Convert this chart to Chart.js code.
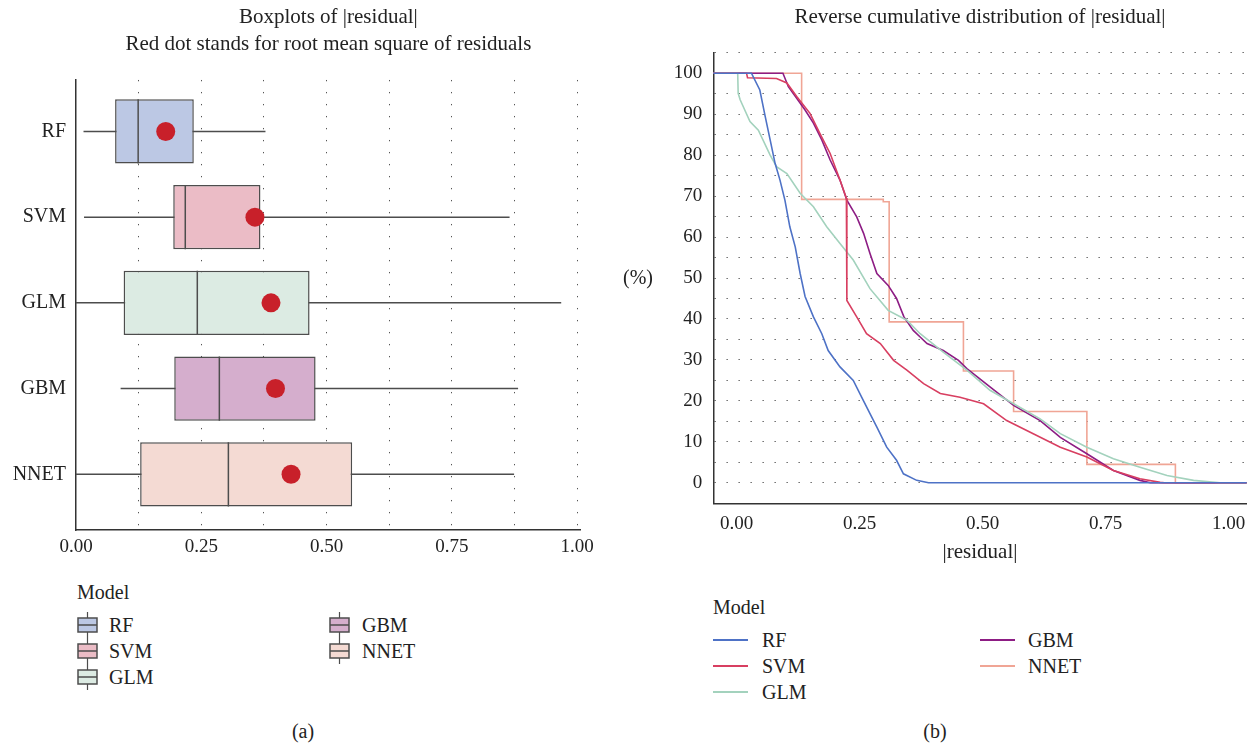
<!DOCTYPE html>
<html>
<head>
<meta charset="utf-8">
<script src="https://cdn.jsdelivr.net/npm/chart.js@4.4.1/dist/chart.umd.min.js"></script>
<style>
  body { margin: 0; background: #fff; font-family: 'Liberation Serif', serif; color: #222; }
  #page { position: relative; width: 1258px; height: 746px; overflow: hidden; }
  canvas { position: absolute; }
  .txt { position: absolute; font-size: 20px; line-height: 1; white-space: nowrap; transform: translateY(-50%); }
  .center { transform: translate(-50%, -50%); }
  .swatch { position: absolute; transform: translateY(-50%); }
</style>
</head>
<body>
<div id="page">
  <canvas id="boxChart" width="600" height="570" style="left:0;top:0"></canvas>
  <canvas id="ecdfChart" width="618" height="565" style="left:640px;top:0"></canvas>
  <div class="txt center" style="left:638px;top:277px">(%)</div>
  <div class="txt center" style="left:303px;top:731px">(a)</div>
  <div class="txt center" style="left:935px;top:731px">(b)</div>
  <div id="legends"></div>
</div>
<script>
const FONT = "'Liberation Serif', serif";

const models = ['RF', 'SVM', 'GLM', 'GBM', 'NNET'];
const boxColors = ['#bcc8e4', '#ebbcc6', '#dcebe3', '#d5aecd', '#f4dad3'];
const lineColors = ['#4e72c6', '#d83f61', '#a3d2bd', '#8d1d84', '#f0a595'];

// boxplot stats of |residual|
const whiskerLow = [0.015, 0.016, 0.0, 0.089, 0.0];
const q1 = [0.078, 0.194, 0.095, 0.196, 0.128];
const median = [0.124, 0.218, 0.242, 0.286, 0.304];
const q3 = [0.235, 0.368, 0.466, 0.478, 0.551];
const whiskerHigh = [0.378, 0.865, 0.968, 0.882, 0.874];
const rmse = [0.179, 0.357, 0.389, 0.398, 0.429];

const residTicks = [0, 0.25, 0.5, 0.75, 1.0];
const pctTicks = [0, 10, 20, 30, 40, 50, 60, 70, 80, 90, 100];

// reverse cumulative distribution (% of |residual| above x)
const rfX = [-0.05, 0.030, 0.047, 0.058, 0.068, 0.078, 0.088, 0.098, 0.108, 0.119, 0.129, 0.139, 0.156, 0.173, 0.186, 0.210, 0.237, 0.254, 0.271, 0.285, 0.305, 0.325, 0.339, 0.366, 0.390, 1.05];
const rfP = [100, 100, 95.9, 89.4, 83.7, 78, 73.9, 69, 62.5, 57.6, 51.1, 45.5, 40.5, 36.4, 32.3, 28.3, 25, 20.9, 16.9, 13.6, 8.7, 5.5, 2.2, 0.6, 0, 0];

const svmX = [-0.05, 0.020, 0.022, 0.081, 0.102, 0.122, 0.149, 0.169, 0.190, 0.210, 0.223, 0.224, 0.244, 0.264, 0.292, 0.319, 0.346, 0.380, 0.414, 0.454, 0.502, 0.549, 0.603, 0.658, 0.712, 0.766, 0.820, 0.861, 0.870, 1.05];
const svmP = [100, 100, 98.9, 98.7, 97.6, 94.3, 90.2, 85.3, 80.4, 73.9, 69.5, 44.5, 40.5, 36.4, 34, 29.9, 27.5, 24.2, 21.8, 20.9, 19.3, 15.2, 12, 8.7, 6.3, 3, 1, 0.1, 0, 0];

const glmX = [-0.05, 0.002, 0.003, 0.007, 0.027, 0.044, 0.068, 0.081, 0.102, 0.129, 0.156, 0.183, 0.210, 0.237, 0.271, 0.308, 0.346, 0.373, 0.420, 0.468, 0.515, 0.563, 0.617, 0.658, 0.712, 0.766, 0.820, 0.875, 0.929, 0.983, 1.05];
const glmP = [100, 100, 95.1, 93.5, 88.2, 86.1, 80, 77.2, 75.5, 70.7, 67.4, 62.5, 58.4, 54.4, 47.4, 42.1, 39.7, 36.4, 31.9, 27.5, 22.6, 19.3, 15.6, 12, 8.7, 5.9, 3.8, 1.8, 0.6, 0, 0];

const gbmX = [-0.05, 0.094, 0.105, 0.122, 0.139, 0.156, 0.173, 0.190, 0.210, 0.224, 0.244, 0.258, 0.271, 0.285, 0.308, 0.325, 0.340, 0.359, 0.373, 0.387, 0.420, 0.451, 0.468, 0.515, 0.563, 0.617, 0.658, 0.712, 0.766, 0.820, 0.841, 1.05];
const gbmP = [100, 100, 96.7, 93.9, 91, 87.8, 83.7, 78.8, 73.9, 69, 64.9, 60.9, 56, 51.1, 48.2, 45, 40.5, 37.2, 35.6, 34, 32.3, 29.9, 27.9, 23.4, 18.9, 15.2, 11.1, 7.1, 3, 0.6, 0, 0];

const nnetX = [-0.05, 0.132, 0.298, 0.310, 0.461, 0.563, 0.712, 0.892, 1.05];
const nnetP = [100, 69.2, 68.6, 39.3, 27.3, 17.4, 4.5, 0, 0];

const curves = [[rfX, rfP], [svmX, svmP], [glmX, glmP], [gbmX, gbmP], [nnetX, nnetP]];

const boxFrac = 0.75;
const pos = i => models.length - i;
const edge = '#4d4d4d';
const tickFont = { family: FONT, size: 19 };

Chart.defaults.font.family = FONT;
Chart.defaults.color = '#222';

// ---------- (a) boxplots ----------
const boxDatasets = [];
models.forEach((m, i) => {
  boxDatasets.push({
    type: 'scatter', showLine: true, order: 3,
    data: [{ x: whiskerLow[i], y: pos(i) }, { x: whiskerHigh[i], y: pos(i) }],
    borderColor: edge, borderWidth: 1.5, pointRadius: 0
  });
  boxDatasets.push({
    type: 'scatter', showLine: true, order: 1,
    data: [{ x: median[i], y: pos(i) - boxFrac / 2 }, { x: median[i], y: pos(i) + boxFrac / 2 }],
    borderColor: edge, borderWidth: 1.5, pointRadius: 0
  });
});
boxDatasets.push({
  type: 'bar', indexAxis: 'y', order: 2,
  data: models.map((m, i) => ({ y: pos(i), x: [q1[i], q3[i]] })),
  backgroundColor: boxColors, borderColor: edge, borderWidth: 1.5,
  borderSkipped: false, categoryPercentage: 1, barPercentage: boxFrac, grouped: false
});
boxDatasets.push({
  type: 'scatter', order: 0,
  data: models.map((m, i) => ({ x: rmse[i], y: pos(i) })),
  pointRadius: 9.5, backgroundColor: '#c8202a', borderWidth: 0
});

new Chart(document.getElementById('boxChart'), {
  type: 'scatter',
  data: { datasets: boxDatasets },
  options: {
    responsive: false, animation: false, events: [],
    layout: { padding: { left: 0, right: 18, top: 0, bottom: 0 } },
    plugins: {
      legend: { display: false }, tooltip: { enabled: false },
      title: {
        display: true, fullSize: false, color: '#222',
        text: ['Boxplots of |residual|', 'Red dot stands for root mean square of residuals'],
        font: { family: FONT, size: 21, weight: 'normal', lineHeight: 1.29 },
        padding: { top: 3.5, bottom: 22.3 }
      }
    },
    scales: {
      x: {
        type: 'linear', min: 0, max: 1.007, offset: false,
        afterBuildTicks: axis => {
          const t = [];
          residTicks.forEach((v, k) => {
            t.push({ value: v });
            if (k < residTicks.length - 1) t.push({ value: (v + residTicks[k + 1]) / 2 });
          });
          axis.ticks = t;
        },
        afterFit: s => { s.height = 40; },
        ticks: {
          autoSkip: false, maxRotation: 0, padding: 6, color: '#222', font: tickFont,
          callback: v => residTicks.includes(v) ? v.toFixed(2) : ''
        },
        grid: {
          drawTicks: false, lineWidth: 1, offset: false,
          color: c => c.tick && c.tick.value > 0 ? '#555' : 'rgba(0,0,0,0)'
        },
        border: { display: true, color: '#333', width: 1.5, dash: [1.3, 10.7] }
      },
      y: {
        type: 'linear', min: 0.35, max: 5.6, offset: false,
        afterBuildTicks: axis => { axis.ticks = models.map((m, i) => ({ value: pos(i) })); },
        afterFit: s => { s.width = 76; },
        ticks: {
          autoSkip: false, padding: 10, color: '#222', font: { family: FONT, size: 20 },
          callback: v => models[models.length - v]
        },
        grid: { display: false, drawTicks: false, offset: false },
        border: { display: true, color: '#333', width: 1.5 }
      }
    }
  }
});

// ---------- (b) reverse cumulative distribution ----------
const ecdfDatasets = models.map((m, i) => ({
  type: 'line', label: m,
  data: curves[i][0].map((x, k) => ({ x: x, y: curves[i][1][k] })),
  borderColor: lineColors[i], borderWidth: 1.6, pointRadius: 0, tension: 0,
  stepped: m === 'NNET' ? 'before' : false, fill: false
}));

new Chart(document.getElementById('ecdfChart'), {
  type: 'line',
  data: { datasets: ecdfDatasets },
  options: {
    responsive: false, animation: false, events: [],
    layout: { padding: { left: 0, right: 11.3, top: 0, bottom: 0 } },
    plugins: {
      legend: { display: false }, tooltip: { enabled: false },
      title: {
        display: true, fullSize: false, color: '#222',
        text: 'Reverse cumulative distribution of |residual|',
        font: { family: FONT, size: 21, weight: 'normal', lineHeight: 1.2 },
        padding: { top: 4.4, bottom: 23.1 }
      }
    },
    scales: {
      x: {
        type: 'linear', min: -0.0476, max: 1.037,
        afterBuildTicks: axis => { axis.ticks = residTicks.map(v => ({ value: v })); },
        afterFit: s => { s.height = 61.7; },
        ticks: {
          autoSkip: false, maxRotation: 0, padding: 9, color: '#222', font: tickFont,
          callback: v => v.toFixed(2)
        },
        grid: { display: false, drawTicks: false },
        border: { display: true, color: '#333', width: 1.5 },
        title: {
          display: true, text: '|residual|', color: '#222',
          font: { family: FONT, size: 21, lineHeight: 1.2 }, padding: { top: 0, bottom: 0 }
        }
      },
      y: {
        type: 'linear', min: -5, max: 105,
        afterBuildTicks: axis => {
          const t = [];
          pctTicks.forEach(v => { t.push({ value: v }); t.push({ value: v + 5 }); });
          axis.ticks = t;
        },
        afterFit: s => { s.width = 73.3; },
        ticks: {
          autoSkip: false, padding: 11, color: '#222', font: tickFont,
          callback: v => pctTicks.includes(v) ? String(v) : ''
        },
        grid: { drawTicks: false, lineWidth: 1, color: '#555' },
        border: { display: true, color: '#333', width: 1.5, dash: [1.3, 10.7] }
      }
    }
  }
});

// ---------- legends ----------
const legends = document.getElementById('legends');
function addText(text, x, y) {
  const d = document.createElement('div');
  d.className = 'txt';
  d.style.left = x + 'px';
  d.style.top = y + 'px';
  d.textContent = text;
  legends.appendChild(d);
}
addText('Model', 77, 592);
addText('Model', 713, 607);

models.forEach((m, i) => {
  const col = i < 3 ? 0 : 1;
  const row = i < 3 ? i : i - 3;
  // boxplot legend key
  const by = 625 + row * 26;
  const bx = [77, 329][col];
  const svg = document.createElementNS('http://www.w3.org/2000/svg', 'svg');
  svg.setAttribute('width', '21');
  svg.setAttribute('height', '26');
  svg.setAttribute('class', 'swatch');
  svg.style.left = bx + 'px';
  svg.style.top = by + 'px';
  svg.innerHTML =
    '<line x1="10.5" y1="0" x2="10.5" y2="26" stroke="' + edge + '" stroke-width="1.2"/>' +
    '<rect x="1" y="6" width="19" height="14" fill="' + boxColors[i] + '" stroke="' + edge + '" stroke-width="1.5"/>' +
    '<line x1="1" y1="13" x2="20" y2="13" stroke="' + edge + '" stroke-width="1.5"/>';
  legends.appendChild(svg);
  addText(m, [109, 362][col], by);

  // line legend key
  const ly = 640 + row * 26;
  const lx = [713, 980][col];
  const ln = document.createElement('div');
  ln.className = 'swatch';
  ln.style.cssText = 'left:' + lx + 'px;top:' + ly + 'px;width:35px;height:2px;background:' + lineColors[i];
  legends.appendChild(ln);
  addText(m, [762, 1028][col], ly);
});
</script>
</body>
</html>
